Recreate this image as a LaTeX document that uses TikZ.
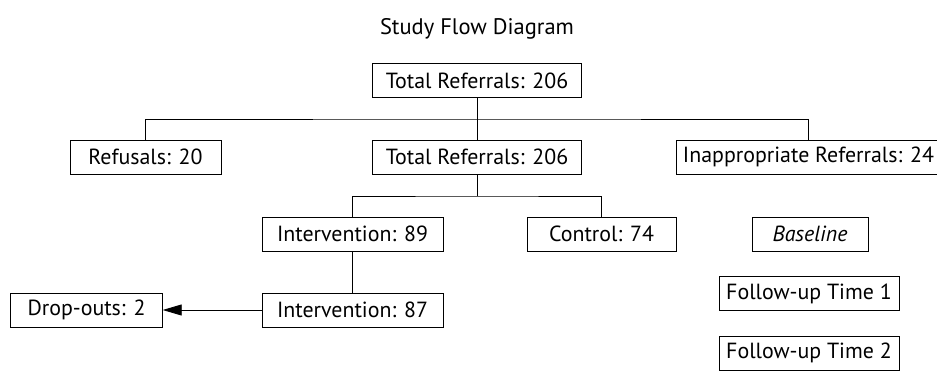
\documentclass[tikz,border=0pt]{standalone}
\usepackage{fontspec}
\setmainfont{PT Sans}
\usetikzlibrary{arrows.meta}
\begin{document}
\begin{tikzpicture}[x=1pt,y=-1pt,
  box/.style={draw,line width=0.9pt,inner sep=0pt,minimum height=34pt,font=\fontsize{21.9}{24}\selectfont},
  link/.style={line width=0.9pt}]
\useasboundingbox (0,0) rectangle (937,371);
\clip (0,0) rectangle (937,371);
\node[font=\fontsize{22.5}{24}\selectfont,anchor=base,inner sep=0pt] (title) at (477,35) {Study Flow Diagram};
\node[box,minimum width=209.5pt] (top) at (477,80.75) {Total Referrals: 206};
\node[box,minimum width=151pt] (refusals) at (145.5,157) {Refusals: 20};
\node[box,minimum width=209.5pt] (total2) at (477,157) {Total Referrals: 206};
\node[box,minimum width=265pt] (inapp) at (808.5,157) {Inappropriate Referrals: 24};
\node[box,minimum width=181pt] (int89) at (352.5,234) {Intervention: 89};
\node[box,minimum width=149pt] (control) at (601.5,234) {Control: 74};
\node[box,minimum width=116pt] (baseline) at (810,234) {\itshape Baseline};
\node[box,minimum width=181pt] (int87) at (352.5,310) {Intervention: 87};
\node[box,minimum width=151.5pt] (drop) at (86.5,310) {Drop-outs: 2};
\node[box,minimum width=180pt,minimum height=33.5pt] (fu1) at (809,293.5) {Follow-up Time 1};
\node[box,minimum width=180pt] (fu2) at (809,353) {Follow-up Time 2};
\coordinate (bus1) at (477,119);
\coordinate (bus2) at (477,196);
\draw[link] (top.south) -- (total2.north);
\draw[link] (refusals.north) |- (bus1) -| (inapp.north);
\draw[link] (total2.south) -- (bus2);
\draw[link] (int89.north) |- (bus2) -| (control.north);
\draw[link] (int89.south) -- (int87.north);
\draw[link,-{Triangle[length=19pt,width=11pt]}] (int87.west) -- (drop.east);
\end{tikzpicture}
\end{document}
